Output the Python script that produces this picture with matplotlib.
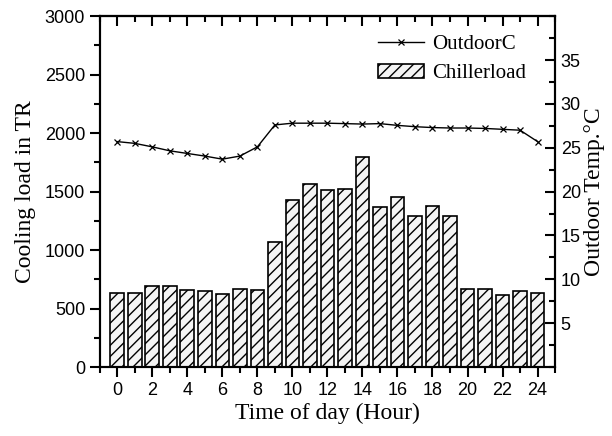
import matplotlib
matplotlib.use("Agg")
import matplotlib.pyplot as plt
from matplotlib.ticker import MultipleLocator

hours = list(range(25))
chiller_load = [635, 630, 692, 695, 661, 650, 624, 669, 661, 1071,
                1430, 1562, 1515, 1525, 1797, 1370, 1450, 1290, 1375, 1290,
                669, 664, 613, 650, 635]
outdoor_temp = [25.7, 25.5, 25.1, 24.65, 24.35, 24.05, 23.7, 24.05, 25.1, 27.6,
                27.8, 27.8, 27.8, 27.75, 27.7, 27.75, 27.55, 27.4, 27.3, 27.25,
                27.25, 27.2, 27.1, 27.0, 25.7]

serif = "Liberation Serif"
plt.rcParams["font.family"] = ["Liberation Sans", "DejaVu Sans"]

fig = plt.figure(figsize=(6.12, 4.36), dpi=100)
ax = fig.add_axes([0.163, 0.158, 0.744, 0.805])
ax2 = ax.twinx()

bars = ax.bar(hours, chiller_load, width=0.78, facecolor="#f4f4f4",
              edgecolor="black", linewidth=1.2, hatch="///", label="Chillerload")
line, = ax2.plot(hours, outdoor_temp, color="black", linewidth=1.0,
                 marker="x", markersize=4.5, markeredgewidth=0.9, label="OutdoorC")

ax.set_xlim(-1, 25)
ax.set_ylim(0, 3000)
ax2.set_ylim(0, 40)

ax.xaxis.set_major_locator(MultipleLocator(2))
ax.xaxis.set_minor_locator(MultipleLocator(1))
ax.yaxis.set_major_locator(MultipleLocator(500))
ax.yaxis.set_minor_locator(MultipleLocator(250))
ax2.set_yticks([5, 10, 15, 20, 25, 30, 35])
ax2.yaxis.set_minor_locator(MultipleLocator(2.5))

ax.tick_params(axis="both", which="major", direction="out", length=7, width=1.5, labelsize=13)
ax.tick_params(axis="both", which="minor", direction="out", length=4, width=1.5)
ax2.tick_params(axis="y", which="major", direction="in", length=7, width=1.5, labelsize=13, pad=4)
ax2.tick_params(axis="y", which="minor", direction="in", length=4, width=1.5)

# top ticks pointing inward, no labels
top = ax.secondary_xaxis("top")
top.xaxis.set_major_locator(MultipleLocator(2))
top.xaxis.set_minor_locator(MultipleLocator(1))
top.tick_params(which="major", direction="in", length=7, width=1.5, labeltop=False)
top.tick_params(which="minor", direction="in", length=4, width=1.5)
top.spines["top"].set_linewidth(1.5)

for a in (ax, ax2):
    for s in a.spines.values():
        s.set_linewidth(1.5)

ax.set_xlabel("Time of day (Hour)", fontsize=17, family=serif, labelpad=3)
ax.set_ylabel("Cooling load in TR", fontsize=17, family=serif, labelpad=6)
ax2.set_ylabel("Outdoor Temp.°C", fontsize=17, family=serif, labelpad=2)

ax2.legend([line, bars], ["OutdoorC", "Chillerload"], loc="upper right",
           frameon=False, prop={"family": serif, "size": 15},
           handlelength=2.2, handletextpad=0.4, labelspacing=0.45,
           bbox_to_anchor=(0.978, 1.0))

fig.savefig("out.png", dpi=100)
